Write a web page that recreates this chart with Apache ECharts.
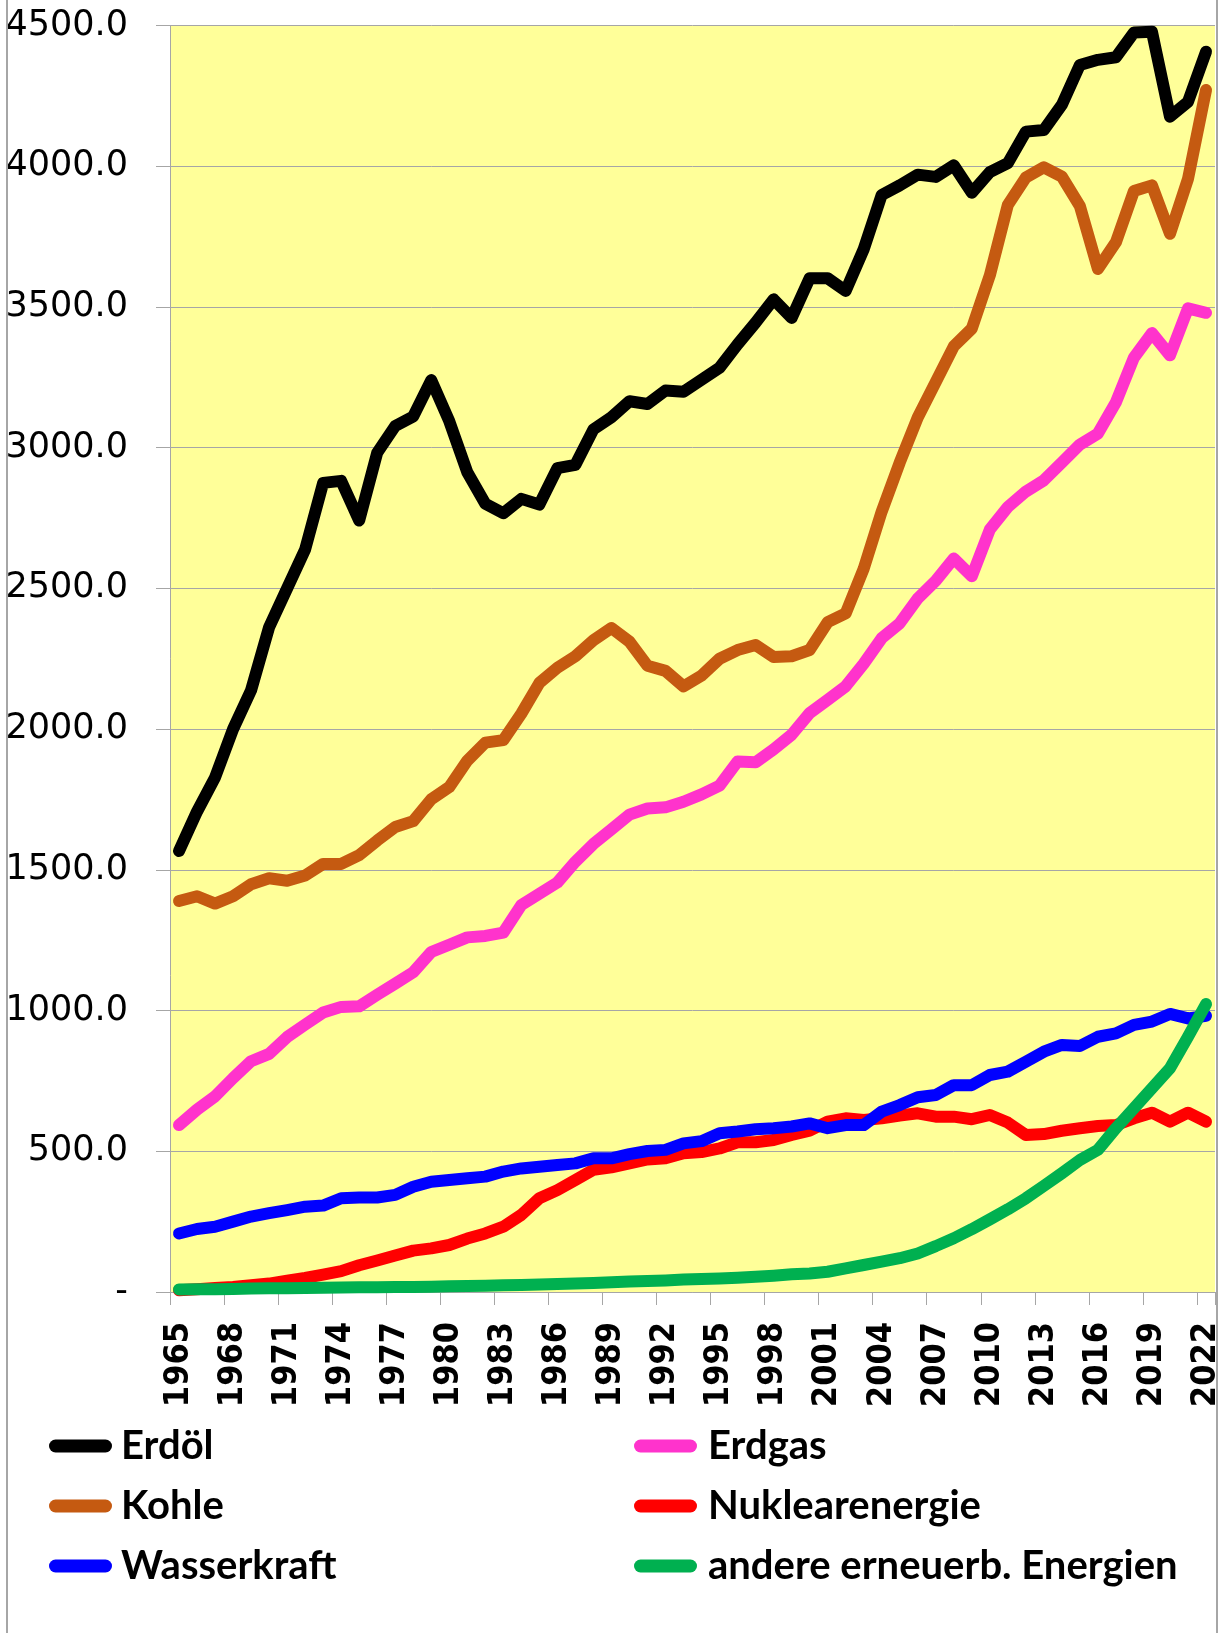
<!DOCTYPE html>
<html>
<head>
<meta charset="utf-8">
<script src="https://cdn.jsdelivr.net/npm/echarts@6/dist/echarts.min.js"></script>
<style>
  html, body { margin: 0; padding: 0; background: #ffffff; }
  #chart { width: 1223px; height: 1633px; }
</style>
</head>
<body>
<div id="chart"></div>
<script>
const years = [
  '1965','1966','1967','1968','1969','1970','1971','1972','1973','1974',
  '1975','1976','1977','1978','1979','1980','1981','1982','1983','1984',
  '1985','1986','1987','1988','1989','1990','1991','1992','1993','1994',
  '1995','1996','1997','1998','1999','2000','2001','2002','2003','2004',
  '2005','2006','2007','2008','2009','2010','2011','2012','2013','2014',
  '2015','2016','2017','2018','2019','2020','2021','2022'
];
const yTicks = [0, 500, 1000, 1500, 2000, 2500, 3000, 3500, 4000, 4500];

const erdoel = [
  1567, 1707, 1828, 2000, 2138, 2362, 2500, 2638, 2875, 2882,
  2741, 2982, 3077, 3111, 3240, 3094, 2913, 2801, 2767, 2818,
  2798, 2927, 2939, 3065, 3108, 3165, 3155, 3203, 3199, 3241,
  3284, 3367, 3444, 3527, 3461, 3602, 3602, 3557, 3705, 3898,
  3932, 3970, 3962, 4003, 3906, 3979, 4011, 4123, 4129, 4218,
  4360, 4378, 4387, 4475, 4478, 4176, 4229, 4407
];
const erdgas = [
  593, 648, 695, 760, 820, 846, 906, 950, 993, 1013,
  1015, 1056, 1096, 1136, 1208, 1234, 1260, 1265, 1277, 1375,
  1415, 1455, 1529, 1592, 1644, 1696, 1718, 1722, 1742, 1768,
  1799, 1885, 1882, 1928, 1980, 2057, 2104, 2152, 2232, 2323,
  2376, 2464, 2527, 2606, 2543, 2709, 2789, 2844, 2884, 2947,
  3011, 3050, 3161, 3320, 3407, 3328, 3495, 3479
];
const kohle = [
  1389, 1406, 1380, 1406, 1449, 1470, 1461, 1480, 1521, 1521,
  1552, 1604, 1652, 1673, 1751, 1794, 1888, 1952, 1961, 2055,
  2164, 2218, 2259, 2316, 2359, 2311, 2225, 2207, 2152, 2190,
  2250, 2281, 2299, 2256, 2259, 2281, 2380, 2411, 2570, 2773,
  2947, 3107, 3233, 3360, 3423, 3612, 3862, 3960, 3996, 3963,
  3858, 3635, 3730, 3912, 3932, 3760, 3955, 4271
];
const nuklear = [
  6, 10, 14, 18, 24, 30, 40, 50, 62, 74,
  95, 112, 130, 147, 155, 167, 190, 208, 232, 274,
  333, 362, 398, 434, 443, 457, 471, 475, 493, 497,
  510, 532, 532, 540, 558, 573, 605, 617, 611, 617,
  627, 635, 623, 623, 614, 629, 602, 558, 561, 573,
  582, 590, 593, 617, 637, 605, 637, 605
];
const wasserkraft = [
  208, 224, 232, 250, 268, 280, 291, 303, 307, 333,
  336, 336, 345, 374, 392, 398, 404, 410, 428, 439,
  445, 451, 457, 475, 475, 490, 501, 505, 528, 536,
  564, 570, 578, 582, 588, 599, 582, 593, 593, 641,
  664, 692, 700, 735, 735, 771, 783, 818, 854, 878,
  874, 907, 919, 949, 961, 988, 972, 981
];
const erneuerbar = [
  9, 10, 10, 11, 12, 13, 13, 14, 15, 16,
  17, 17, 18, 18, 19, 20, 21, 22, 24, 25,
  27, 28, 30, 32, 35, 37, 39, 41, 44, 46,
  48, 51, 54, 58, 63, 66, 72, 84, 96, 108,
  120, 137, 163, 191, 223, 258, 294, 333, 377, 422,
  469, 505, 582, 653, 724, 795, 907, 1023
];

const chart = echarts.init(document.getElementById('chart'), null, { renderer: 'canvas' });

// Legenden-Symbol: dicke Linie mit runden Enden
const pill = 'path://M6.5,0H56.5A6.5,6.5,0,0,1,56.5,13H6.5A6.5,6.5,0,0,1,6.5,0Z';
const gridGray = '#a6a6a6';

function line(name, color, data) {
  return {
    name: name,
    type: 'line',
    data: data,
    showSymbol: false,
    symbol: 'none',
    lineStyle: { color: color, width: 12, cap: 'round', join: 'round' },
    itemStyle: { color: color }
  };
}

function legend(names, left) {
  return {
    orient: 'vertical',
    left: left,
    top: 1426,
    padding: 0,
    itemGap: 20,
    itemWidth: 63,
    itemHeight: 13,
    icon: pill,
    data: names,
    textStyle: {
      color: '#000000',
      fontFamily: 'Lato',
      fontWeight: 'bold',
      fontSize: 40,
      lineHeight: 40,
      padding: [0, 0, 0, left > 300 ? 6 : 4]
    }
  };
}

chart.setOption({
  animation: false,
  backgroundColor: '#ffffff',
  grid: {
    left: 170,
    right: 6,
    top: 25.5,
    bottom: 341,
    show: true,
    backgroundColor: '#FFFF99',
    borderWidth: 0
  },
  legend: [
    legend(['Erdöl', 'Kohle', 'Wasserkraft'], 49),
    legend(['Erdgas', 'Nuklearenergie', 'andere erneuerb. Energien'], 634)
  ],
  xAxis: {
    type: 'category',
    data: years,
    boundaryGap: true,
    axisLine: { lineStyle: { color: gridGray, width: 1 } },
    axisTick: { show: true, interval: 2, length: 13, lineStyle: { color: gridGray } },
    axisLabel: {
      interval: 2,
      rotate: 90,
      margin: 30,
      color: '#000000',
      fontFamily: 'DejaVu Sans Condensed',
      fontWeight: 'bold',
      fontSize: 34
    },
    splitLine: { show: false }
  },
  yAxis: {
    type: 'value',
    min: yTicks[0],
    max: yTicks[yTicks.length - 1],
    interval: 500,
    axisLine: { show: true, lineStyle: { color: gridGray, width: 1 } },
    axisTick: { show: true, length: 14, lineStyle: { color: gridGray } },
    axisLabel: {
      margin: 42,
      color: '#000000',
      fontFamily: 'DejaVu Sans',
      fontSize: 35,
      formatter: function (v) { return v === 0 ? '-' : v.toFixed(1); }
    },
    splitLine: { show: true, lineStyle: { color: gridGray, width: 1 } }
  },
  series: [
    line('Erdöl', '#000000', erdoel),
    line('Erdgas', '#FF33CC', erdgas),
    line('Kohle', '#C55A11', kohle),
    line('Nuklearenergie', '#FF0000', nuklear),
    line('Wasserkraft', '#0000FF', wasserkraft),
    line('andere erneuerb. Energien', '#00B050', erneuerbar)
  ],
  // Rahmen des Diagramms (schneidet rechts die letzte Beschriftung ab)
  graphic: [
    { type: 'rect', z: 100, shape: { x: 1217.5, y: 0, width: 10, height: 1633 }, style: { fill: '#ffffff' } },
    { type: 'line', z: 101, shape: { x1: 1217, y1: 0, x2: 1217, y2: 1633 }, style: { stroke: gridGray, lineWidth: 2 } },
    { type: 'line', z: 101, shape: { x1: 7, y1: 0, x2: 7, y2: 1633 }, style: { stroke: gridGray, lineWidth: 2 } }
  ]
});
</script>
</body>
</html>
